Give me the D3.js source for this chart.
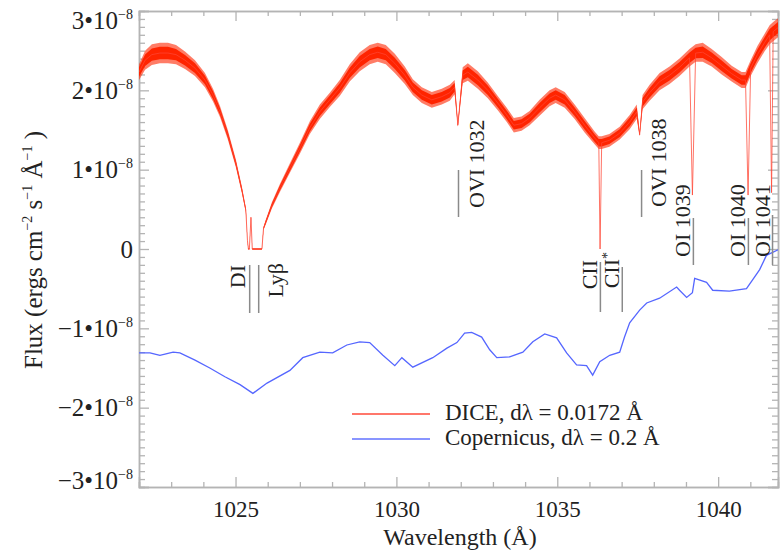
<!DOCTYPE html>
<html>
<head>
<meta charset="utf-8">
<script src="https://cdn.jsdelivr.net/npm/d3@7"></script>
<style>
  body { margin: 0; background: #fff; }
  text { font-family: "Liberation Serif", "Times New Roman", serif; fill: #222; }
</style>
</head>
<body>
<div id="chart"></div>
<script>
// DICE spectrum (wavelength in Å, flux in units of 1e-8 ergs cm^-2 s^-1 Å^-1)
const diceWave = [1022.00, 1022.19, 1022.40, 1022.65, 1022.90, 1023.15, 1023.43, 1023.74, 1024.05, 1024.30,
  1024.52, 1024.76, 1025.01, 1025.20, 1025.32, 1025.37, 1025.40, 1025.43, 1025.48, 1025.52,
  1025.82, 1025.87, 1025.94, 1026.13, 1026.38, 1026.69, 1027.00, 1027.31, 1027.62, 1027.93,
  1028.24, 1028.55, 1028.86, 1029.17, 1029.42, 1029.67, 1029.95, 1030.26, 1030.51, 1030.79,
  1031.10, 1031.41, 1031.66, 1031.81, 1031.91, 1032.06, 1032.22, 1032.53, 1032.84, 1033.15,
  1033.43, 1033.65, 1033.89, 1034.14, 1034.45, 1034.76, 1034.95, 1035.23, 1035.54, 1035.85,
  1036.16, 1036.29, 1036.33, 1036.38, 1036.62, 1036.94, 1037.25, 1037.47, 1037.56, 1037.65,
  1037.87, 1038.18, 1038.49, 1038.80, 1039.11, 1039.20, 1039.30, 1039.52, 1039.80, 1040.11,
  1040.42, 1040.73, 1040.85, 1040.93, 1041.01, 1041.22, 1041.44, 1041.60, 1041.66, 1041.71, 1041.86];
const diceFlux = [2.23, 2.38, 2.45, 2.47, 2.47, 2.45, 2.38, 2.28, 2.13, 1.94,
  1.73, 1.44, 1.08, 0.74, 0.49, 0.11, 0.00, 0.00, 0.40, 0.00,
  0.00, 0.26, 0.34, 0.55, 0.77, 1.02, 1.27, 1.53, 1.73, 1.88,
  2.03, 2.22, 2.36, 2.45, 2.48, 2.45, 2.34, 2.19, 2.04, 1.94,
  1.88, 1.92, 1.97, 2.04, 1.56, 2.19, 2.23, 2.13, 2.00, 1.84,
  1.69, 1.56, 1.58, 1.65, 1.78, 1.90, 1.94, 1.88, 1.73, 1.56,
  1.40, 1.34, 0.00, 1.34, 1.37, 1.46, 1.60, 1.73, 1.44, 1.85,
  1.97, 2.11, 2.19, 2.29, 2.41, 0.68, 2.47, 2.48, 2.41, 2.31,
  2.21, 2.13, 2.13, 0.68, 2.28, 2.45, 2.60, 2.70, 0.71, 2.74, 2.79];
// half-width of the noisy band; 0 marks a narrow absorption line
const diceNoise = [0.10, 0.12, 0.13, 0.13, 0.13, 0.12, 0.11, 0.10, 0.09, 0.08,
  0.07, 0.06, 0.05, 0.04, 0.03, 0.01, 0.01, 0.01, 0.01, 0.01,
  0.01, 0.02, 0.03, 0.04, 0.05, 0.06, 0.07, 0.08, 0.09, 0.09,
  0.10, 0.11, 0.12, 0.12, 0.12, 0.12, 0.12, 0.11, 0.10, 0.10,
  0.10, 0.10, 0.10, 0.09, 0.02, 0.10, 0.11, 0.11, 0.10, 0.09,
  0.09, 0.09, 0.09, 0.09, 0.10, 0.10, 0.10, 0.10, 0.09, 0.09,
  0.08, 0.08, 0.00, 0.08, 0.08, 0.08, 0.09, 0.09, 0.02, 0.09,
  0.10, 0.11, 0.11, 0.11, 0.11, 0.00, 0.11, 0.12, 0.11, 0.11,
  0.10, 0.10, 0.10, 0.00, 0.10, 0.11, 0.11, 0.12, 0.00, 0.12, 0.12];

// Copernicus spectrum, shown offset below
const copWave = [1022.00, 1022.34, 1022.65, 1023.06, 1023.27, 1023.74, 1024.20, 1024.67, 1025.14, 1025.54,
  1025.98, 1026.69, 1027.09, 1027.62, 1028.02, 1028.46, 1028.86, 1029.17, 1029.58, 1029.95,
  1030.17, 1030.51, 1031.13, 1031.57, 1031.88, 1032.12, 1032.34, 1032.65, 1032.90, 1033.12,
  1033.52, 1033.93, 1034.24, 1034.61, 1034.98, 1035.29, 1035.60, 1035.91, 1036.10, 1036.32,
  1036.63, 1036.94, 1037.09, 1037.25, 1037.56, 1037.78, 1038.18, 1038.71, 1038.80, 1039.02,
  1039.20, 1039.27, 1039.64, 1039.83, 1040.35, 1040.88, 1041.07, 1041.29, 1041.50, 1041.86];
const copFlux = [-1.31, -1.31, -1.34, -1.30, -1.31, -1.40, -1.50, -1.61, -1.71, -1.82,
  -1.69, -1.53, -1.37, -1.30, -1.31, -1.21, -1.17, -1.18, -1.34, -1.47,
  -1.37, -1.49, -1.37, -1.25, -1.18, -1.06, -1.05, -1.11, -1.27, -1.37,
  -1.36, -1.30, -1.17, -1.07, -1.12, -1.31, -1.46, -1.47, -1.59, -1.42,
  -1.34, -1.30, -1.11, -0.93, -0.77, -0.68, -0.62, -0.48, -0.52, -0.61,
  -0.55, -0.37, -0.42, -0.52, -0.53, -0.50, -0.39, -0.26, -0.08, -0.01];

// line identifications
const lineNames = ["DI", "Lyβ", "OVI 1032", "CII", "CII*", "OVI 1038", "OI 1039", "OI 1040", "OI 1041"];
const lineWaves = [1025.44, 1025.72, 1031.93, 1036.34, 1037.02, 1037.62, 1039.23, 1040.94, 1041.69];

// ticks
const xMajor = [1025, 1030, 1035, 1040];
const yMajor = [-3, -2, -1, 0, 1, 2, 3];
const legendLabels = ["DICE, dλ = 0.0172 Å", "Copernicus, dλ = 0.2 Å"];

const margin = {top: 11, right: 2, bottom: 64, left: 139},
    W = 780, H = 551,
    width = W - margin.left - margin.right,
    height = H - margin.top - margin.bottom;

const svg = d3.select("#chart").append("svg")
    .attr("width", W).attr("height", H);
const g = svg.append("g").attr("transform", `translate(${margin.left},${margin.top})`);

const x = d3.scaleLinear().domain([1022, 1041.86]).range([0, width]);
const y = d3.scaleLinear().domain([-3, 3]).range([height, 0]);

const frameColor = "#b4b4b4";
const xMinor = d3.range(1022, 1042, 1).filter(v => !xMajor.includes(v));
const yMinor = d3.range(-30, 31).map(v => v / 10).filter(v => !yMajor.includes(v));

function styleAxis(sel) {
  sel.selectAll(".domain").attr("stroke", frameColor).attr("stroke-width", 1.5);
  sel.selectAll(".tick line").attr("stroke", frameColor).attr("stroke-width", 1.3);
}

// bottom axis with labels
const gx = g.append("g").attr("transform", `translate(0,${height})`)
  .call(d3.axisBottom(x).tickValues(xMajor).tickSize(-10).tickPadding(14).tickFormat(d3.format("d")));
gx.selectAll("text").attr("font-size", 23).attr("fill", "#222")
  .style("font-family", '"Liberation Serif", serif');
styleAxis(gx);
g.append("g").attr("transform", `translate(0,${height})`)
  .call(d3.axisBottom(x).tickValues(xMinor).tickSize(-5).tickFormat(""))
  .call(styleAxis);
// top axis
g.append("g").call(d3.axisTop(x).tickValues(xMajor).tickSize(-10).tickFormat("")).call(styleAxis);
g.append("g").call(d3.axisTop(x).tickValues(xMinor).tickSize(-5).tickFormat("")).call(styleAxis);
// left axis
g.append("g").call(d3.axisLeft(y).tickValues(yMajor).tickSize(-10).tickFormat("")).call(styleAxis);
g.append("g").call(d3.axisLeft(y).tickValues(yMinor).tickSize(-6).tickFormat("")).call(styleAxis);
// right axis
g.append("g").attr("transform", `translate(${width},0)`)
  .call(d3.axisRight(y).tickValues(yMajor).tickSize(-10).tickFormat("")).call(styleAxis);
g.append("g").attr("transform", `translate(${width},0)`)
  .call(d3.axisRight(y).tickValues(yMinor).tickSize(-6).tickFormat("")).call(styleAxis);

// y tick labels like 2•10^-8
yMajor.forEach(v => {
  const cy = Math.max(9.5, Math.min(height - 7, y(v)));
  const t = g.append("text").attr("x", -6).attr("y", cy).attr("dy", "0.35em")
    .attr("text-anchor", "end").attr("font-size", 25);
  if (v === 0) { t.text("0"); return; }
  t.append("tspan").text((v < 0 ? "−" : "") + Math.abs(v) + "•10");
  t.append("tspan").attr("font-size", 14).attr("dy", -10).text("−8");
});

// plot contents, clipped
svg.append("clipPath").attr("id", "clip").append("rect")
  .attr("width", width).attr("height", height);
const plot = g.append("g").attr("clip-path", "url(#clip)");

// noisy band (narrow lines skipped), fuzzy outer edge + solid core
const band = d3.range(diceWave.length).filter(i => diceNoise[i] > 0);
[[1.0, 0.6], [0.6, 1]].forEach(([k, op]) => {
  plot.append("path").datum(band)
    .attr("fill", "#ff2400").attr("fill-opacity", op)
    .attr("d", d3.area()
      .x(i => x(diceWave[i]))
      .y0(i => y(diceFlux[i] - k * diceNoise[i]))
      .y1(i => y(diceFlux[i] + k * diceNoise[i])));
});
plot.append("path").datum(d3.range(diceWave.length))
  .attr("fill", "none").attr("stroke", "#ff4433").attr("stroke-opacity", 0.75).attr("stroke-width", 1)
  .attr("d", d3.line().x(i => x(diceWave[i])).y(i => y(diceFlux[i])));

const cidx = d3.range(copWave.length);
plot.append("path").datum(cidx)
  .attr("fill", "none").attr("stroke", "#5566ff").attr("stroke-width", 1.3)
  .attr("d", d3.line().x(i => x(copWave[i])).y(i => y(copFlux[i])));

// line identification marks (layout in pixel offsets)
const idLayout = {
  "DI":       {y1: 254, y2: 302, dx: -5, anchor: "end",   ty: 254},
  "Lyβ":      {y1: 254, y2: 302, dx: 24, anchor: "end",   ty: 252},
  "OVI 1032": {y1: 159, y2: 206, dx: 25, anchor: "start", ty: 197},
  "CII":      {y1: 251, y2: 301, dx: -3, anchor: "end",   ty: 249},
  "CII*":     {y1: 256, y2: 301, dx: -3, anchor: "end",   ty: 241},
  "OVI 1038": {y1: 159, y2: 206, dx: 24, anchor: "start", ty: 196},
  "OI 1039":  {y1: 207, y2: 254, dx: -3, anchor: "start", ty: 246},
  "OI 1040":  {y1: 207, y2: 254, dx: -3, anchor: "start", ty: 246},
  "OI 1041":  {y1: 204, y2: 254, dx: -3, anchor: "start", ty: 246}
};
lineNames.forEach((name, i) => {
  const L = idLayout[name], lx = x(lineWaves[i]);
  g.append("line").attr("x1", lx).attr("x2", lx).attr("y1", L.y1).attr("y2", L.y2)
    .attr("stroke", "#8a8a8a").attr("stroke-width", 1.5);
  const t = g.append("text")
    .attr("transform", `translate(${lx + L.dx},${L.ty}) rotate(-90)`)
    .attr("text-anchor", L.anchor).attr("font-size", 22);
  if (name.endsWith("*")) {
    t.append("tspan").text(name.slice(0, -1));
    t.append("tspan").attr("font-size", 14).attr("dy", -7).text("*");
  } else {
    t.text(name);
  }
});

// legend
const legColors = ["#ff4a3a", "#6272ff"];
legendLabels.forEach((lab, i) => {
  const ly = 403 + i * 25;
  g.append("line").attr("x1", 213).attr("x2", 291).attr("y1", ly).attr("y2", ly)
    .attr("stroke", legColors[i]).attr("stroke-width", 1.3);
  g.append("text").attr("x", 306).attr("y", ly + 6).attr("font-size", 23).text(lab);
});

// axis titles
svg.append("text").attr("x", 460).attr("y", 545).attr("text-anchor", "middle")
  .attr("font-size", 24).text("Wavelength (Å)");
const yt = svg.append("text").attr("transform", "translate(42,250) rotate(-90)")
  .attr("text-anchor", "middle").attr("font-size", 25);
yt.append("tspan").text("Flux (ergs cm");
yt.append("tspan").attr("font-size", 14).attr("dy", -10).text("−2");
yt.append("tspan").attr("dy", 10).text(" s");
yt.append("tspan").attr("font-size", 14).attr("dy", -10).text("−1");
yt.append("tspan").attr("dy", 10).text(" Å");
yt.append("tspan").attr("font-size", 14).attr("dy", -10).text("−1");
yt.append("tspan").attr("dy", 10).text(" )");
</script>
</body>
</html>
